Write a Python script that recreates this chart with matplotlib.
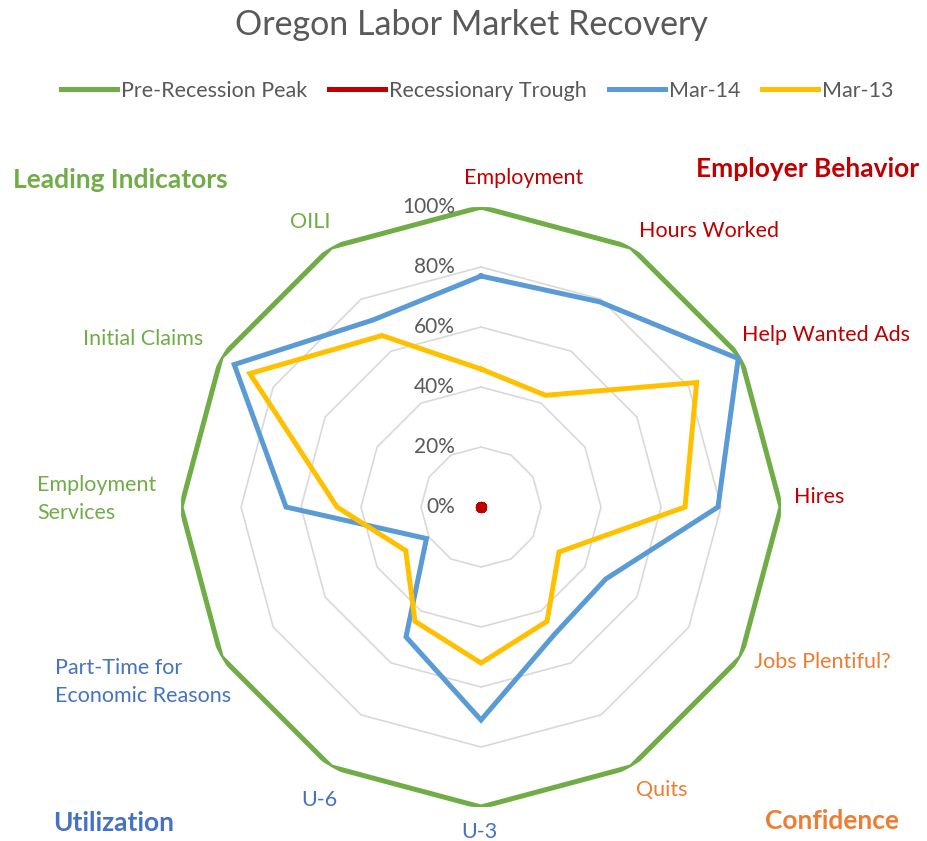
import numpy as np
import matplotlib
matplotlib.use("Agg")
import matplotlib.pyplot as plt

categories = ["Employment", "Hours Worked", "Help Wanted Ads", "Hires",
              "Jobs Plentiful?", "Quits", "U-3", "U-6",
              "Part-Time for\nEconomic Reasons", "Employment\nServices",
              "Initial Claims", "OILI"]
peak = [100] * 12
trough = [0] * 12
mar14 = [77, 79, 99, 79, 48, 49, 71, 50, 21, 65, 95, 72]
mar13 = [46, 43, 83, 68, 30, 44, 52, 44, 29, 48, 89, 66]
rticks = [0, 20, 40, 60, 80, 100]
rtick_labels = ["0%", "20%", "40%", "60%", "80%", "100%"]

green = "#70AD47"
red = "#C00000"
blue = "#5B9BD5"
yellow = "#FFC000"
orange = "#ED7D31"
dblue = "#4472C4"
grey = "#595959"

label_colors = [red, red, red, red, orange, orange, dblue, dblue, dblue,
                green, green, green]
# pixel offsets of label centres from the 100% vertex
label_offsets = [(43, 29), (78, 16), (85, 22), (38, 10), (82, -5), (31, -23),
                 (-2, -25), (-12, -33), (-78, -25), (-84, 8), (-78, 18), (-21, 25)]

plt.rcParams['font.family'] = ['Lato', 'DejaVu Sans']

fig = plt.figure(figsize=(9.27, 8.41), dpi=100)
ax = fig.add_axes([0.1953, 0.0404, 0.6472, 0.7134], projection='polar')
ax.set_theta_zero_location('N')
ax.set_theta_direction(-1)
ax.set_ylim(0, 100)
ax.grid(False)
ax.spines['polar'].set_visible(False)
ax.set_xticks([])
ax.set_yticks([])
ax.patch.set_alpha(0)

theta = np.linspace(0, 2 * np.pi, len(categories), endpoint=False)
tc = np.append(theta, theta[0])

def closed(v):
    return np.append(v, v[0])

# polygonal gridlines
for r in rticks[1:]:
    ax.plot(tc, [r] * len(tc), color="#D9D9D9", lw=1.2, zorder=1)

ax.plot(tc, closed(peak), color=green, lw=3.6, zorder=3, solid_joinstyle='miter')
ax.plot(tc, closed(trough), color=red, lw=3.6, marker='o', markersize=7, zorder=3)
ax.plot(tc, closed(mar14), color=blue, lw=3.6, zorder=4, solid_joinstyle='miter')
ax.plot(tc, closed(mar13), color=yellow, lw=3.6, zorder=5, solid_joinstyle='miter')

for r, lab in zip(rticks, rtick_labels):
    ax.annotate(lab, xy=(0, r), xytext=(-26, 0), textcoords='offset pixels',
                ha='right', va='center', fontsize=15, color=grey, zorder=6)

for t, lab, c, off in zip(theta, categories, label_colors, label_offsets):
    ax.annotate(lab, xy=(t, 100), xytext=off, textcoords='offset pixels',
                ha='center', va='center', multialignment='left',
                fontsize=15.5, color=c, linespacing=1.5,
                annotation_clip=False)

fig.text(0.509, 0.970, "Oregon Labor Market Recovery", ha='center', va='center',
         fontsize=24.5, color=grey)

# group labels
fig.text(120 / 927, 1 - 180 / 841, "Leading Indicators", ha='center', va='center',
         fontsize=19, fontweight='bold', color=green)
fig.text(808 / 927, 1 - 169 / 841, "Employer Behavior", ha='center', va='center',
         fontsize=19, fontweight='bold', color=red)
fig.text(114 / 927, 1 - 823 / 841, "Utilization", ha='center', va='center',
         fontsize=19, fontweight='bold', color=dblue)
fig.text(832 / 927, 1 - 821 / 841, "Confidence", ha='center', va='center',
         fontsize=19, fontweight='bold', color=orange)

handles = [plt.Line2D([], [], color=c, lw=3.6) for c in (green, red, blue, yellow)]
fig.legend(handles, ["Pre-Recession Peak", "Recessionary Trough", "Mar-14", "Mar-13"],
           loc='center', bbox_to_anchor=(0.515, 1 - 91 / 841), ncol=4, frameon=False,
           fontsize=15.5, labelcolor=grey, handlelength=2.6, handletextpad=0.2,
           columnspacing=1.0)

fig.savefig("out.png", dpi=100)
